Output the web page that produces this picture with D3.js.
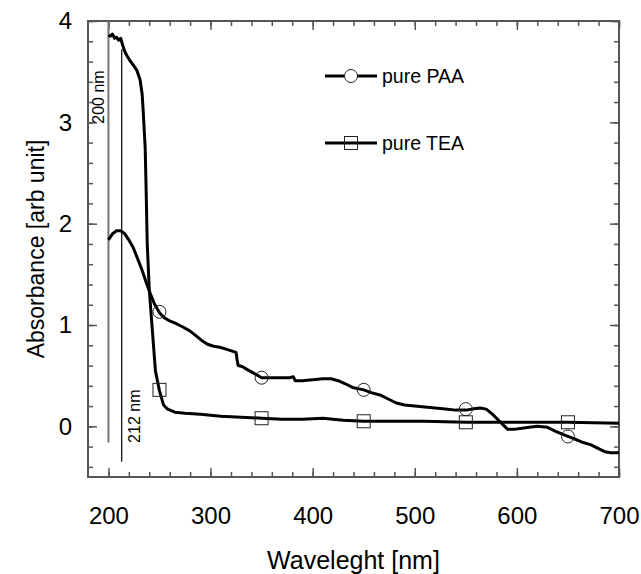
<!DOCTYPE html>
<html>
<head>
<meta charset="utf-8">
<script src="https://cdn.jsdelivr.net/npm/d3@7"></script>
<style>
  body { margin: 0; background: #fff; }
  svg { font-family: "Liberation Sans", Arial, sans-serif; }
</style>
</head>
<body>
<div id="chart"></div>
<script>
// wavelength (nm) and absorbance
var paaX = [200, 204, 208, 212, 216, 220, 224, 228, 233, 237, 241, 245, 250, 255, 260, 267, 273, 280, 285, 291, 297, 303, 309, 316, 322, 325, 326, 327, 331, 336, 343, 350, 360, 370, 378, 381, 383, 390, 400, 410, 418, 425, 432, 440, 450, 458, 466, 474, 482, 490, 500, 510, 520, 530, 540, 550, 556, 564, 570, 576, 582, 587, 591, 597, 605, 612, 620, 630, 638, 645, 650, 658, 665, 672, 680, 686, 692, 700]
var paaY = [1.84, 1.90, 1.93, 1.93, 1.90, 1.84, 1.77, 1.67, 1.54, 1.42, 1.31, 1.21, 1.12, 1.07, 1.04, 1.01, 0.98, 0.94, 0.90, 0.85, 0.81, 0.79, 0.78, 0.76, 0.74, 0.73, 0.66, 0.60, 0.59, 0.56, 0.52, 0.48, 0.48, 0.48, 0.48, 0.49, 0.45, 0.45, 0.46, 0.47, 0.47, 0.45, 0.42, 0.38, 0.36, 0.33, 0.31, 0.27, 0.23, 0.21, 0.20, 0.19, 0.18, 0.17, 0.16, 0.16, 0.17, 0.18, 0.17, 0.12, 0.06, 0.01, -0.03, -0.03, -0.02, -0.01, 0.00, -0.01, -0.05, -0.08, -0.10, -0.13, -0.16, -0.18, -0.22, -0.25, -0.26, -0.26]

var teaX = [200, 202, 204, 206, 208, 210, 212, 214, 216, 218, 221, 224, 228, 231, 233, 234, 236, 237, 238, 240, 243, 246, 250, 254, 258, 265, 275, 290, 310, 330, 350, 370, 390, 410, 430, 450, 480, 510, 550, 600, 650, 700]
var teaY = [3.86, 3.85, 3.87, 3.83, 3.84, 3.81, 3.83, 3.76, 3.70, 3.66, 3.61, 3.57, 3.51, 3.42, 3.28, 3.12, 2.75, 2.30, 1.80, 1.35, 0.95, 0.55, 0.35, 0.21, 0.17, 0.14, 0.13, 0.12, 0.10, 0.09, 0.08, 0.07, 0.07, 0.08, 0.06, 0.05, 0.05, 0.05, 0.04, 0.04, 0.04, 0.03]

var markerX = [250, 350, 450, 550, 650]
var paaMarkY = [1.13, 0.48, 0.36, 0.17, -0.10]
var teaMarkY = [0.36, 0.08, 0.05, 0.04, 0.04]

var xTicks = [200, 300, 400, 500, 600, 700]
var yTicks = [0, 1, 2, 3, 4]
var seriesNames = ['pure PAA', 'pure TEA']

var width = 641, height = 574
var margin = { top: 21, right: 22, bottom: 97, left: 88 }
var w = width - margin.left - margin.right
var h = height - margin.top - margin.bottom

var svg = d3.select('#chart').append('svg')
  .attr('width', width)
  .attr('height', height)

var x = d3.scaleLinear().domain([180, 700]).range([0, w])
var y = d3.scaleLinear().domain([-0.5, 4]).range([h, 0])

var g = svg.append('g')
  .attr('transform', 'translate(' + margin.left + ',' + margin.top + ')')

var frameColor = '#555'

// inward ticks on all four sides
function tickAxis (axis, major, minor, translate) {
  var gMinor = g.append('g').attr('transform', translate)
    .call(axis.tickValues(minor).tickSize(5).tickFormat(''))
  var gMajor = g.append('g').attr('transform', translate)
    .call(axis.tickValues(major).tickSize(9).tickFormat(''))
  ;[gMinor, gMajor].forEach(function (a) {
    a.select('.domain').remove()
    a.selectAll('.tick line').attr('stroke', frameColor).attr('stroke-width', 1.5)
  })
}

var xMinor = d3.range(200, 701, 20)
var yMinor = d3.range(-0.4, 4.01, 0.2)

tickAxis(d3.axisTop(x), xTicks, xMinor, 'translate(0,' + h + ')')
tickAxis(d3.axisBottom(x), xTicks, xMinor, 'translate(0,0)')
tickAxis(d3.axisRight(y), yTicks, yMinor, 'translate(0,0)')
tickAxis(d3.axisLeft(y), yTicks, yMinor, 'translate(' + w + ',0)')

function styleLabels (a) {
  a.select('.domain').remove()
  a.selectAll('text').attr('font-size', 24).attr('fill', '#000')
    .attr('font-family', '"Liberation Sans", Arial, sans-serif')
}

// tick labels
var xLab = d3.axisBottom(x).tickValues(xTicks).tickSize(0).tickPadding(30).tickFormat(d3.format('d'))
g.append('g').attr('transform', 'translate(0,' + h + ')').call(xLab).call(styleLabels)
var yLab = d3.axisLeft(y).tickValues(yTicks).tickSize(0).tickPadding(16).tickFormat(d3.format('d'))
g.append('g').call(yLab).call(styleLabels)

// frame
g.append('rect')
  .attr('width', w).attr('height', h)
  .attr('fill', 'none')
  .attr('stroke', frameColor)
  .attr('stroke-width', 2)

// reference lines at 200 nm and 212 nm
g.append('line')
  .attr('x1', x(200)).attr('x2', x(200))
  .attr('y1', y(4)).attr('y2', y(-0.16))
  .attr('stroke', '#777').attr('stroke-width', 2)
g.append('line')
  .attr('x1', x(213)).attr('x2', x(213))
  .attr('y1', y(3.72)).attr('y2', y(-0.35))
  .attr('stroke', '#000').attr('stroke-width', 1.2)

g.append('text')
  .attr('transform', 'translate(' + (x(200) - 4) + ',' + y(3.25) + ') rotate(-90)')
  .attr('text-anchor', 'middle')
  .attr('font-size', 16)
  .text('200 nm')
g.append('text')
  .attr('transform', 'translate(' + (x(213) + 18) + ',' + y(0.1) + ') rotate(-90)')
  .attr('text-anchor', 'middle')
  .attr('font-size', 16)
  .text('212 nm')

// curves
var line = d3.line()
  .x(function (d) { return x(d[0]) })
  .y(function (d) { return y(d[1]) })

var paa = d3.zip(paaX, paaY)
var tea = d3.zip(teaX, teaY)

g.append('path').datum(paa)
  .attr('d', line)
  .attr('fill', 'none').attr('stroke', '#000')
  .attr('stroke-width', 3).attr('stroke-linejoin', 'round')
g.append('path').datum(tea)
  .attr('d', line)
  .attr('fill', 'none').attr('stroke', '#000')
  .attr('stroke-width', 3).attr('stroke-linejoin', 'round')

// markers (hollow)
g.selectAll('.paa-mark')
  .data(d3.zip(markerX, paaMarkY))
  .enter().append('circle')
  .attr('class', 'paa-mark')
  .attr('cx', function (d) { return x(d[0]) })
  .attr('cy', function (d) { return y(d[1]) })
  .attr('r', 6.5)
  .attr('fill', 'none').attr('stroke', '#222').attr('stroke-width', 1)
g.selectAll('.tea-mark')
  .data(d3.zip(markerX, teaMarkY))
  .enter().append('rect')
  .attr('class', 'tea-mark')
  .attr('x', function (d) { return x(d[0]) - 6.5 })
  .attr('y', function (d) { return y(d[1]) - 6.5 })
  .attr('width', 13).attr('height', 13)
  .attr('fill', 'none').attr('stroke', '#222').attr('stroke-width', 1)

// legend
var legend = svg.append('g')
seriesNames.forEach(function (name, i) {
  var ly = 76 + i * 67
  legend.append('line')
    .attr('x1', 325).attr('x2', 377)
    .attr('y1', ly).attr('y2', ly)
    .attr('stroke', '#000').attr('stroke-width', 3)
  if (i === 0) {
    legend.append('circle').attr('cx', 351).attr('cy', ly).attr('r', 6.5)
      .attr('fill', '#fff').attr('stroke', '#222').attr('stroke-width', 1)
  } else {
    legend.append('rect').attr('x', 344.5).attr('y', ly - 6.5)
      .attr('width', 13).attr('height', 13)
      .attr('fill', 'none').attr('stroke', '#222').attr('stroke-width', 1)
  }
  legend.append('text')
    .attr('x', 382).attr('y', ly + 7)
    .attr('font-size', 19.5)
    .text(name)
})

// axis titles
svg.append('text')
  .attr('x', margin.left + w / 2)
  .attr('y', 569)
  .attr('text-anchor', 'middle')
  .attr('font-size', 25)
  .text('Waveleght [nm]')
svg.append('text')
  .attr('transform', 'translate(44,' + (margin.top + h / 2) + ') rotate(-90)')
  .attr('text-anchor', 'middle')
  .attr('font-size', 23)
  .text('Absorbance [arb unit]')
</script>
</body>
</html>
